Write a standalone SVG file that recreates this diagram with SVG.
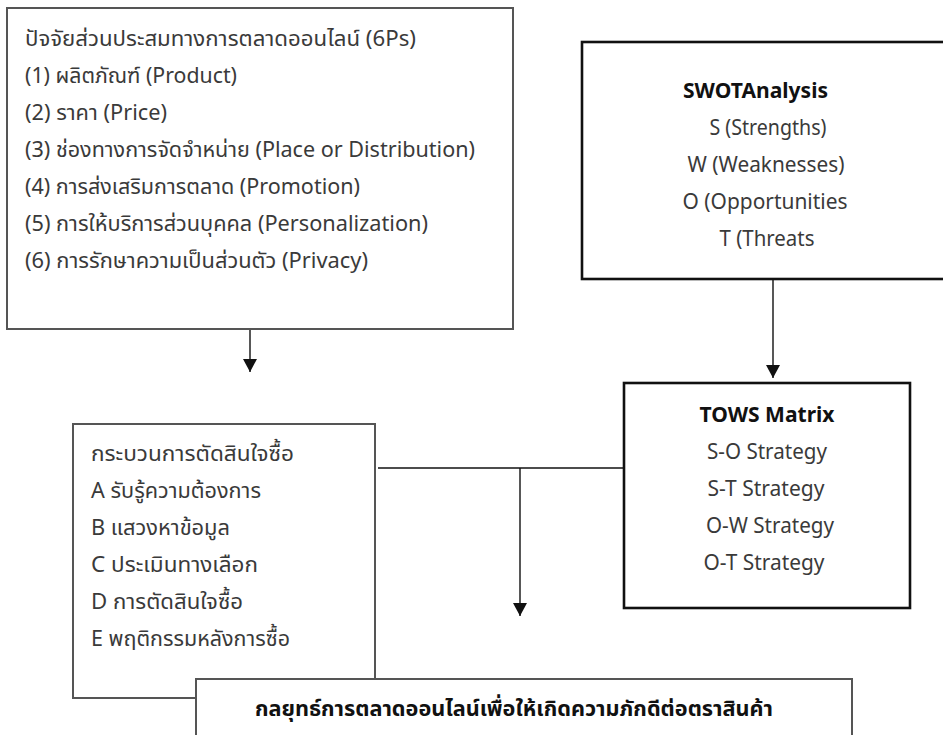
<svg xmlns="http://www.w3.org/2000/svg" width="943" height="735" viewBox="0 0 943 735">
<defs>
<style>
.t{font-family:"Noto Sans","Noto Sans Thai","Leelawadee UI",Tahoma,sans-serif;font-size:22px;fill:#3a3a3a}
.b{font-family:"Noto Sans","Noto Sans Thai","Leelawadee UI",Tahoma,sans-serif;font-size:21px;font-weight:bold;fill:#111}
.m{text-anchor:middle}
.thin{fill:#fff;stroke:#555;stroke-width:2}
.thick{fill:#fff;stroke:#111;stroke-width:2.6}
.c{fill:none;stroke:#111;stroke-width:1.4}
</style>
<marker id="ah" markerUnits="userSpaceOnUse" markerWidth="14" markerHeight="14" refX="13" refY="7" orient="auto">
<path d="M0,0 L13,7 L0,14 z" fill="#111"/>
</marker>
</defs>
<rect width="943" height="735" fill="#fff"/>
<g id="connectors">
<line class="c" x1="250" y1="330" x2="250" y2="372" marker-end="url(#ah)"/>
<line class="c" x1="773" y1="280" x2="773" y2="378" marker-end="url(#ah)"/>
<line class="c" x1="378" y1="468" x2="624" y2="468"/>
<line class="c" x1="520" y1="468" x2="520" y2="616" marker-end="url(#ah)"/>
</g>
<g id="sixPs">
<rect class="thin" x="7" y="8" width="506" height="321"/>
<text class="t" x="25" y="46" textLength="391" lengthAdjust="spacingAndGlyphs">ปัจจัยส่วนประสมทางการตลาดออนไลน์ (6Ps)</text>
<text class="t" x="25" y="83" textLength="212" lengthAdjust="spacingAndGlyphs">(1) ผลิตภัณฑ์ (Product)</text>
<text class="t" x="25" y="120" textLength="142" lengthAdjust="spacingAndGlyphs">(2) ราคา (Price)</text>
<text class="t" x="25" y="157" textLength="450" lengthAdjust="spacingAndGlyphs">(3) ช่องทางการจัดจำหน่าย (Place or Distribution)</text>
<text class="t" x="25" y="194" textLength="335" lengthAdjust="spacingAndGlyphs">(4) การส่งเสริมการตลาด (Promotion)</text>
<text class="t" x="25" y="231" textLength="403" lengthAdjust="spacingAndGlyphs">(5) การให้บริการส่วนบุคคล (Personalization)</text>
<text class="t" x="25" y="268" textLength="343" lengthAdjust="spacingAndGlyphs">(6) การรักษาความเป็นส่วนตัว (Privacy)</text>
</g>
<g id="swot">
<rect class="thick" x="582" y="42" width="400" height="237"/>
<text class="b" x="683" y="98" textLength="145" lengthAdjust="spacingAndGlyphs">SWOTAnalysis</text>
<text class="t m" x="768" y="135" textLength="117" lengthAdjust="spacingAndGlyphs">S (Strengths)</text>
<text class="t m" x="766" y="172" textLength="157" lengthAdjust="spacingAndGlyphs">W (Weaknesses)</text>
<text class="t m" x="765" y="209" textLength="165" lengthAdjust="spacingAndGlyphs">O (Opportunities</text>
<text class="t m" x="767" y="246" textLength="95" lengthAdjust="spacingAndGlyphs">T (Threats</text>
</g>
<g id="tows">
<rect class="thick" x="624" y="383" width="286" height="225"/>
<text class="b m" x="767" y="422" textLength="135" lengthAdjust="spacingAndGlyphs">TOWS Matrix</text>
<text class="t m" x="767" y="459" textLength="120" lengthAdjust="spacingAndGlyphs">S-O Strategy</text>
<text class="t m" x="766" y="496" textLength="117" lengthAdjust="spacingAndGlyphs">S-T Strategy</text>
<text class="t m" x="770" y="533" textLength="128" lengthAdjust="spacingAndGlyphs">O-W Strategy</text>
<text class="t m" x="764" y="570" textLength="121" lengthAdjust="spacingAndGlyphs">O-T Strategy</text>
</g>
<g id="decision">
<rect class="thin" x="73" y="424" width="302" height="274"/>
<text class="t" x="91" y="461" textLength="203" lengthAdjust="spacingAndGlyphs">กระบวนการตัดสินใจซื้อ</text>
<text class="t" x="91" y="498" textLength="170" lengthAdjust="spacingAndGlyphs">A รับรู้ความต้องการ</text>
<text class="t" x="91" y="535" textLength="139" lengthAdjust="spacingAndGlyphs">B แสวงหาข้อมูล</text>
<text class="t" x="91" y="572" textLength="167" lengthAdjust="spacingAndGlyphs">C ประเมินทางเลือก</text>
<text class="t" x="91" y="609" textLength="152" lengthAdjust="spacingAndGlyphs">D การตัดสินใจซื้อ</text>
<text class="t" x="91" y="646" textLength="199" lengthAdjust="spacingAndGlyphs">E พฤติกรรมหลังการซื้อ</text>
</g>
<g id="strategy">
<rect class="thin" x="196" y="679" width="656" height="80"/>
<text class="b" x="255" y="716" textLength="518" lengthAdjust="spacingAndGlyphs">กลยุทธ์การตลาดออนไลน์เพื่อให้เกิดความภักดีต่อตราสินค้า</text>
</g>
</svg>
